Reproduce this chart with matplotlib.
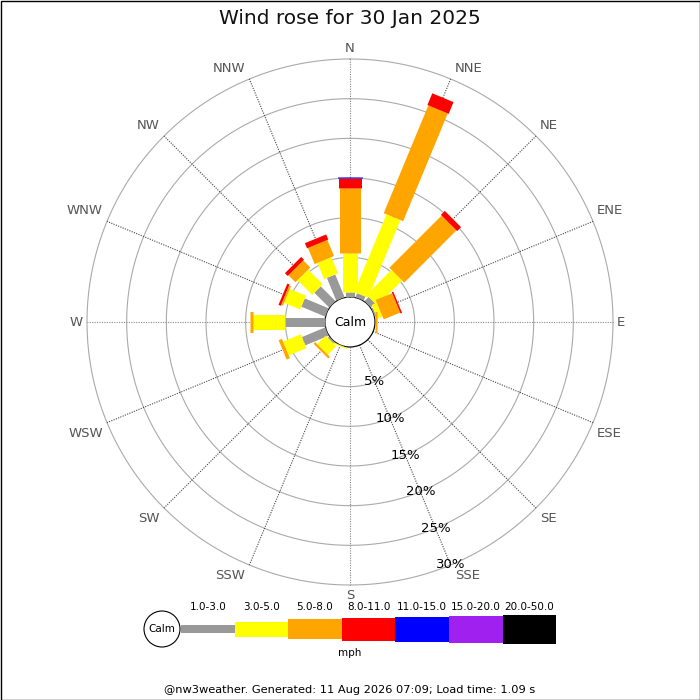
import numpy as np
import matplotlib
matplotlib.use("Agg")
import matplotlib.pyplot as plt
from matplotlib.patches import Rectangle, Circle

plt.rcParams['font.family'] = ['DejaVu Sans']

# ---- data ----
directions = ['N', 'NNE', 'NE', 'ENE', 'E', 'ESE', 'SE', 'SSE',
              'S', 'SSW', 'SW', 'WSW', 'W', 'WNW', 'NW', 'NNW']
speed_bands = ['1.0-3.0', '3.0-5.0', '5.0-8.0', '8.0-11.0',
               '11.0-15.0', '15.0-20.0', '20.0-50.0']
band_colors = ['#999999', '#ffff00', '#ffa500', '#ff0000',
               '#0000ff', '#a020f0', '#000000']
band_widths_px = [9, 15, 21, 23, 25, 27, 29]

# frequency (%) per direction, per speed band
freq_1_3 = [0.60, 0.55, 0.75, 0.20, 0.00, 0, 0, 0, 0, 0.00, 0.25, 3.18, 5.03, 3.26, 2.64, 3.10]
freq_3_5 = [4.95, 10.60, 4.45, 0.70, 0.05, 0, 0, 0, 0, 0.15, 1.50, 2.42, 4.07, 2.19, 2.61, 2.20]
freq_5_8 = [8.25, 14.70, 9.30, 2.25, 0.25, 0, 0, 0, 0, 0.00, 0.28, 0.44, 0.33, 0.25, 1.25, 2.20]
freq_8_11 = [1.25, 1.60, 0.70, 0.20, 0.00, 0, 0, 0, 0, 0.00, 0.00, 0.00, 0.00, 0.30, 0.50, 0.70]
freq_11_15 = [0.10, 0, 0, 0, 0, 0, 0, 0, 0, 0, 0, 0, 0, 0, 0, 0]
freq_15_20 = [0] * 16
freq_20_50 = [0] * 16
ring_pcts = [5, 10, 15, 20, 25, 30]

title = 'Wind rose for 30 Jan 2025'
footer = '@nw3weather. Generated: 11 Aug 2026 07:09; Load time: 1.09 s'
units = 'mph'

# ---- figure ----
W = H = 700
fig = plt.figure(figsize=(7, 7), dpi=100)
px2pt = 72.0 / fig.dpi

cx, cy, R, R0 = 350, 322, 263, 25
ax = fig.add_axes([(cx - R) / W, (H - cy - R) / H, 2 * R / W, 2 * R / H],
                  projection='polar')
ax.set_theta_zero_location('N')
ax.set_theta_direction(-1)
rmax = ring_pcts[-1]
ax.set_ylim(0, rmax)
ax.set_rorigin(-rmax * R0 / (R - R0))
ax.grid(False)
ax.set_xticks([])
ax.set_yticks([])
for s in ax.spines.values():
    s.set_visible(False)

n = len(directions)
thetas = np.deg2rad(np.arange(n) * 360.0 / n)
tfull = np.linspace(0, 2 * np.pi, 721)

# rings
for p in ring_pcts:
    ax.plot(tfull, np.full_like(tfull, p), color='#aaaaaa', lw=0.8,
            zorder=1, clip_on=False)
# calm circle outline
ax.plot(tfull, np.zeros_like(tfull), color='#cccccc', lw=0.8, zorder=1,
        clip_on=False)

# spokes
for i, th in enumerate(thetas):
    col = '#888888' if i % 4 == 0 else '#444444'
    ax.plot([th, th], [0, rmax], color=col, lw=0.8, ls=(0, (1, 1.2)),
            zorder=1.5, clip_on=False)

# bars
series = [freq_1_3, freq_3_5, freq_5_8, freq_8_11, freq_11_15, freq_15_20, freq_20_50]
vals = np.array(series, dtype=float)  # bands x directions
cum = np.cumsum(vals, axis=0)
for b in range(len(speed_bands)):
    for d in range(n):
        v = vals[b, d]
        if v <= 0:
            continue
        r1 = cum[b, d]
        r0 = r1 - v
        ax.plot([thetas[d], thetas[d]], [r0, r1], color=band_colors[b],
                lw=band_widths_px[b] * px2pt, solid_capstyle='butt',
                zorder=3 + b * 0.01, clip_on=False)

# direction labels
for name, th in zip(directions, thetas):
    s, c = np.sin(th), np.cos(th)
    ha = 'left' if s > 0.01 else ('right' if s < -0.01 else 'center')
    va = 'bottom' if c > 0.01 else ('top' if c < -0.01 else 'center')
    ox = 3 * np.sign(s) if abs(s) > 0.01 else 0
    oy = 3 * np.sign(c) if abs(c) > 0.01 else 0
    ax.annotate(name, xy=(th, rmax), xytext=(ox, oy), textcoords='offset points',
                ha=ha, va=va, fontsize=9.5, color='#555555',
                annotation_clip=False, zorder=5)

# percentage labels along SSE
th_lab = thetas[directions.index('SSE')]
for p in ring_pcts:
    ax.text(th_lab, p, f'{p}%', ha='center', va='center', fontsize=9.5,
            color='black', zorder=6)

ax.text(0.5, 0.5, 'Calm', transform=ax.transAxes, ha='center', va='center',
        fontsize=9, color='black', zorder=6)

# ---- overlay (title, legend, footer, border) in pixel coords ----
ov = fig.add_axes([0, 0, 1, 1], zorder=-1)
ov.set_xlim(0, W)
ov.set_ylim(H, 0)
ov.axis('off')
ov.add_patch(Rectangle((0.5, 0.5), W - 1, H - 1, fill=False, ec='black', lw=1))

fig.text(0.5, 1 - 18 / H, title, ha='center', va='center', fontsize=14.5,
         color='#111111')

# legend
lx0, seg_w, ly = 181, 53.6, 629
leg = fig.add_axes([0, 0, 1, 1], zorder=5)
leg.set_xlim(0, W)
leg.set_ylim(H, 0)
leg.axis('off')
for b, lab in enumerate(speed_bands):
    x = lx0 + b * seg_w
    h = band_widths_px[b] - (1 if b in (0, 2) else 0)
    leg.add_patch(Rectangle((x, ly - h / 2), seg_w, h, color=band_colors[b], lw=0))
    leg.text(x + seg_w / 2, 606.5, lab, ha='center', va='center', fontsize=7.5,
             color='black')
leg.add_patch(Circle((162, ly), 18, fc='white', ec='black', lw=0.8, zorder=3))
leg.text(162, ly, 'Calm', ha='center', va='center', fontsize=7.5, zorder=4)
leg.text(350, 653, units, ha='center', va='center', fontsize=7.5)

leg.text(350, 690, footer, ha='center', va='center', fontsize=8.2, color='black')

fig.savefig('out.png', dpi=100)
